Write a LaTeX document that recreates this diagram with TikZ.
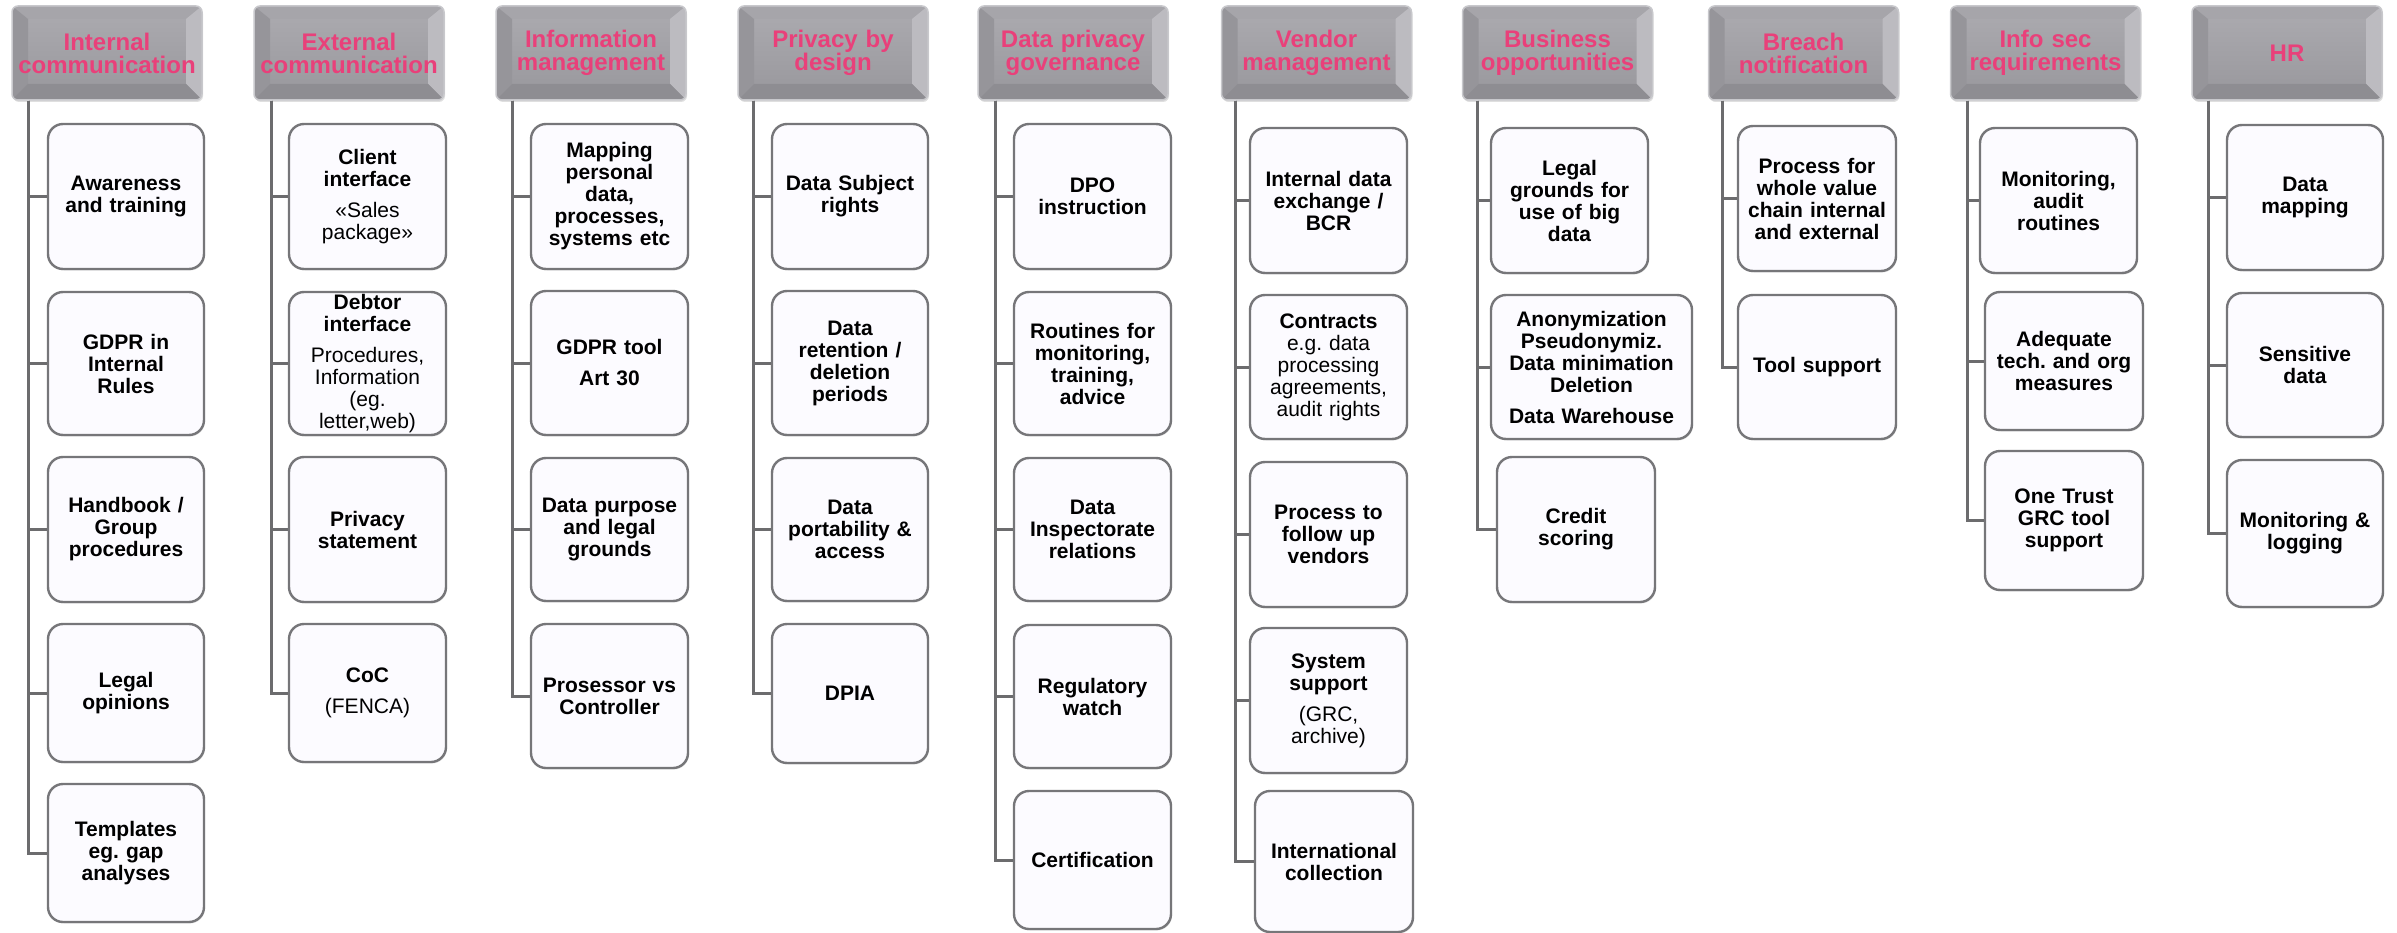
\documentclass[tikz,border=0pt]{standalone}
\usepackage{fontspec}
\setmainfont{Liberation Sans}
\usetikzlibrary{shadows}
\definecolor{hpink}{RGB}{233,64,122}
\definecolor{hfaceT}{RGB}{172,171,176}
\definecolor{hfaceB}{RGB}{152,151,156}
\definecolor{hleft}{RGB}{150,149,154}
\definecolor{htop}{RGB}{166,165,170}
\definecolor{hright}{RGB}{188,187,192}
\definecolor{hbot}{RGB}{142,141,146}
\definecolor{hrim}{RGB}{200,200,204}
\definecolor{bfill}{RGB}{252,251,255}
\definecolor{bedge}{RGB}{118,118,121}
\definecolor{lcol}{RGB}{108,108,110}
\newcommand\hdfont{\fontsize{24}{23}\selectfont\bfseries}
\newcommand\bxfont{\fontsize{21}{22}\selectfont\bfseries}
\tikzset{
  header/.style={rectangle, rounded corners=6pt, minimum width=190pt, minimum height=94pt,
    inner sep=0pt, text width=186pt, align=center, font=\hdfont, text=hpink,
    top color=hfaceT, bottom color=hfaceB, draw=hrim, line width=1.5pt,
    drop shadow={opacity=0.25, shadow xshift=1pt, shadow yshift=-2pt},
    path picture={
      \coordinate (pnw) at (path picture bounding box.north west);
      \coordinate (pse) at (path picture bounding box.south east);
      \coordinate (pne) at (path picture bounding box.north east);
      \coordinate (psw) at (path picture bounding box.south west);
      \coordinate (inw) at ([xshift=16pt,yshift=-13pt]pnw);
      \coordinate (ine) at ([xshift=-16pt,yshift=-13pt]pne);
      \coordinate (ise) at ([xshift=-16pt,yshift=16pt]pse);
      \coordinate (isw) at ([xshift=16pt,yshift=16pt]psw);
      \fill[htop,sharp corners] (pnw)--(pne)--(ine)--(inw)--cycle;
      \fill[hleft,sharp corners] (pnw)--(inw)--(isw)--(psw)--cycle;
      \fill[hright,sharp corners] (pne)--(ine)--(ise)--(pse)--cycle;
      \fill[hbot,sharp corners] (psw)--(isw)--(ise)--(pse)--cycle;
    }},
  box/.style={rectangle, rounded corners=15pt, minimum width=157pt, minimum height=145pt,
    inner sep=0pt, text width=150pt, align=center, font=\bxfont, text=black,
    fill=bfill, draw=bedge, line width=2.4pt,
    drop shadow={opacity=0.2, shadow xshift=1pt, shadow yshift=-1.5pt}},
  conn/.style={draw=lcol, line width=3pt, sharp corners}
}
\begin{document}
\begin{tikzpicture}[x=1pt,y=-1pt]
\useasboundingbox (0,0) rectangle (2397,933);
% headers
\node[header] (h1) at (107,53) {Internal\\communication};
\node[header] (h2) at (349,53) {External\\communication};
\node[header] (h3) at (591,53) {Information\\management};
\node[header] (h4) at (833,53) {Privacy by\\design};
\node[header] (h5) at (1073,53) {Data privacy\\governance};
\node[header] (h6) at (1316.5,53) {Vendor\\management};
\node[header] (h7) at (1557.5,53) {Business\\opportunities};
\node[header] (h8) at (1803.5,53) {Breach\\notification};
\node[header] (h9) at (2045.5,53) {Info sec\\requirements};
\node[header] (h10) at (2287,53) {HR};
% column 1
\node[box, minimum width=156pt] (c11) at (126,196.5) {Awareness\\and training};
\node[box, minimum width=156pt, minimum height=143pt] (c12) at (126,363.5) {GDPR in\\Internal\\Rules};
\node[box, minimum width=156pt] (c13) at (126,529.5) {Handbook /\\Group\\procedures};
\node[box, minimum width=156pt, minimum height=138pt] (c14) at (126,693) {Legal\\opinions};
\node[box, minimum width=156pt, minimum height=138pt] (c15) at (126,853) {Templates\\eg.\ gap\\analyses};
% column 2
\node[box] (c21) at (367.5,196.5) {Client\\interface\\[9pt]{\mdseries «Sales\\package»}};
\node[box, minimum height=143pt] (c22) at (367.5,363.5) {Debtor\\interface\\[9pt]{\mdseries Procedures,\\Information\\(eg.\\letter,web)}};
\node[box] (c23) at (367.5,529.5) {Privacy\\statement};
\node[box, minimum height=138pt] (c24) at (367.5,693) {CoC\\[9pt]{\mdseries (FENCA)}};
% column 3
\node[box] (c31) at (609.5,196.5) {Mapping\\personal\\data,\\processes,\\systems etc};
\node[box, minimum height=144pt] (c32) at (609.5,363) {GDPR tool\\[9pt]Art 30};
\node[box, minimum height=143pt] (c33) at (609.5,529.5) {Data purpose\\and legal\\grounds};
\node[box, minimum height=144pt] (c34) at (609.5,696) {Prosessor vs\\Controller};
% column 4
\node[box, minimum width=156pt] (c41) at (850,196.5) {Data Subject\\rights};
\node[box, minimum width=156pt, minimum height=144pt] (c42) at (850,363) {Data\\retention /\\deletion\\periods};
\node[box, minimum width=156pt, minimum height=143pt] (c43) at (850,529.5) {Data\\portability \&\\access};
\node[box, minimum width=156pt, minimum height=139pt] (c44) at (850,693.5) {DPIA};
% column 5
\node[box] (c51) at (1092.5,196.5) {DPO\\instruction};
\node[box, minimum height=143pt] (c52) at (1092.5,363.5) {Routines for\\monitoring,\\training,\\advice};
\node[box, minimum height=143pt] (c53) at (1092.5,529.5) {Data\\Inspectorate\\relations};
\node[box, minimum height=143pt] (c54) at (1092.5,696.5) {Regulatory\\watch};
\node[box, minimum height=138pt] (c55) at (1092.5,860) {Certification};
% column 6
\node[box] (c61) at (1328.5,200.5) {Internal data\\exchange /\\BCR};
\node[box, minimum height=144pt] (c62) at (1328.5,367) {Contracts\\{\mdseries e.g.\ data\\processing\\agreements,\\audit rights}};
\node[box] (c63) at (1328.5,534.5) {Process to\\follow up\\vendors};
\node[box] (c64) at (1328.5,700.5) {System\\support\\[9pt]{\mdseries (GRC,\\archive)}};
\node[box, minimum width=158pt, minimum height=141pt] (c65) at (1334,861.5) {International\\collection};
% column 7
\node[box] (c71) at (1569.5,200.5) {Legal\\grounds for\\use of big\\data};
\node[box, minimum width=201pt, text width=195pt, minimum height=144pt] (c72) at (1591.5,367) {Anonymization\\Pseudonymiz.\\Data minimation\\Deletion\\[9pt]Data Warehouse};
\node[box, minimum width=158pt] (c73) at (1576,529.5) {Credit\\scoring};
% column 8
\node[box, minimum width=158pt] (c81) at (1817,198.5) {Process for\\whole value\\chain internal\\and external};
\node[box, minimum width=158pt, minimum height=144pt] (c82) at (1817,367) {Tool support};
% column 9
\node[box] (c91) at (2058.5,200.5) {Monitoring,\\audit\\routines};
\node[box, minimum width=158pt, minimum height=138pt] (c92) at (2064,361) {Adequate\\tech.\ and org\\measures};
\node[box, minimum width=158pt, minimum height=139pt] (c93) at (2064,520.5) {One Trust\\GRC tool\\support};
% column 10
\node[box, minimum width=156pt] (ca1) at (2305,197.5) {Data\\mapping};
\node[box, minimum width=156pt, minimum height=144pt] (ca2) at (2305,365) {Sensitive\\data};
\node[box, minimum width=156pt, minimum height=147pt] (ca3) at (2305,533.5) {Monitoring \&\\logging};
% connectors
\foreach \b in {c11,c12,c13,c14,c15} \draw[conn] ([xshift=17pt]h1.south west) |- (\b.west);
\foreach \b in {c21,c22,c23,c24} \draw[conn] ([xshift=18pt]h2.south west) |- (\b.west);
\foreach \b in {c31,c32,c33,c34} \draw[conn] ([xshift=17pt]h3.south west) |- (\b.west);
\foreach \b in {c41,c42,c43,c44} \draw[conn] ([xshift=16pt]h4.south west) |- (\b.west);
\foreach \b in {c51,c52,c53,c54,c55} \draw[conn] ([xshift=18pt]h5.south west) |- (\b.west);
\foreach \b in {c61,c62,c63,c64,c65} \draw[conn] ([xshift=15pt]h6.south west) |- (\b.west);
\foreach \b in {c71,c72,c73} \draw[conn] ([xshift=16pt]h7.south west) |- (\b.west);
\foreach \b in {c81,c82} \draw[conn] ([xshift=15pt]h8.south west) |- (\b.west);
\foreach \b in {c91,c92,c93} \draw[conn] ([xshift=18pt]h9.south west) |- (\b.west);
\foreach \b in {ca1,ca2,ca3} \draw[conn] ([xshift=17pt]h10.south west) |- (\b.west);
\end{tikzpicture}
\end{document}
